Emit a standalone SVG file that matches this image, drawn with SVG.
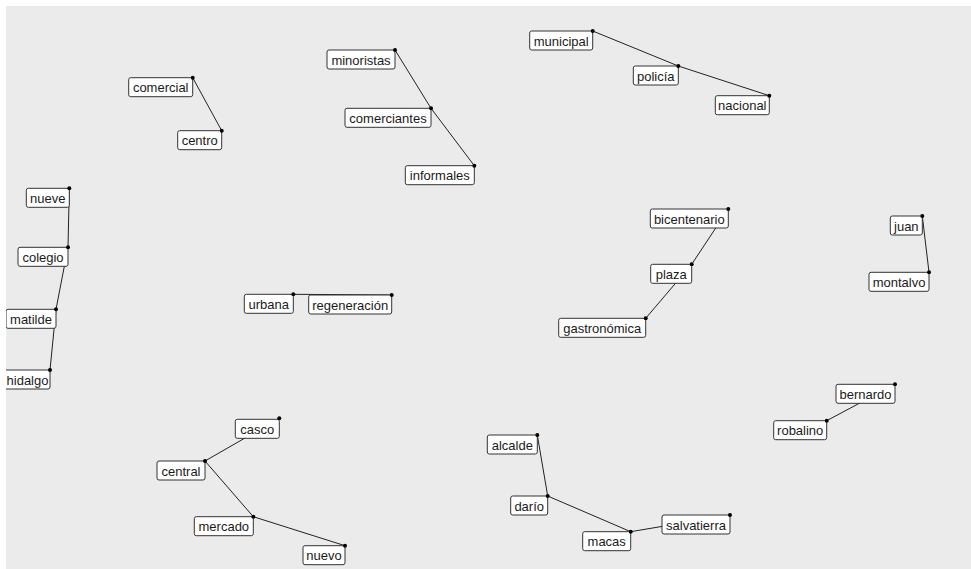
<svg xmlns="http://www.w3.org/2000/svg" width="971" height="569" viewBox="0 0 971 569">
<defs>
<style>
.bx{fill:#fff;stroke:#333;stroke-width:1}
.tx{font-family:"Liberation Sans",Arial,sans-serif;font-size:13px;fill:#1a1a1a;text-anchor:middle}
.pt{fill:#000}
.ed line{stroke:#222;stroke-width:1}
</style>
<clipPath id="pc"><rect x="6" y="6" width="965" height="563"/></clipPath>
</defs>
<rect x="0" y="0" width="971" height="569" fill="#fff"/>
<rect x="6" y="6" width="965" height="563" fill="#ebebeb"/>
<g clip-path="url(#pc)">
<g id="connectors" class="ed">
<line x1="192.7" y1="77.7" x2="221.7" y2="130.7"/>
<line x1="69.3" y1="188.3" x2="68" y2="247.3"/>
<line x1="68" y1="247.3" x2="56" y2="309.3"/>
<line x1="56" y1="309.3" x2="50" y2="370"/>
<line x1="395" y1="50" x2="431" y2="108.3"/>
<line x1="431" y1="108.3" x2="474.3" y2="165.7"/>
<line x1="592.7" y1="31" x2="678.3" y2="66"/>
<line x1="678.3" y1="66" x2="769.3" y2="95.7"/>
<line x1="279.3" y1="418.3" x2="205" y2="461"/>
<line x1="205" y1="461" x2="253.3" y2="516.7"/>
<line x1="253.3" y1="516.7" x2="345" y2="545.7"/>
<line x1="537.3" y1="435" x2="547.7" y2="496"/>
<line x1="547.7" y1="496" x2="630.7" y2="531.7"/>
<line x1="630.7" y1="531.7" x2="730" y2="515"/>
<line x1="293.3" y1="294.3" x2="391.7" y2="295"/>
<line x1="728.3" y1="209" x2="691.7" y2="264.3"/>
<line x1="691.7" y1="264.3" x2="645.7" y2="318.3"/>
<line x1="922.3" y1="216" x2="929" y2="272.3"/>
<line x1="895" y1="384.3" x2="826.7" y2="420.7"/>
</g>
<g id="n-comercial" transform="translate(192.7,77.7)"><rect class="bx" x="-64" y="0" width="64" height="19" rx="2"/><text class="tx" x="-32" y="14.5">comercial</text><circle class="pt" r="2"/></g>
<g id="n-centro" transform="translate(221.7,130.7)"><rect class="bx" x="-44" y="0" width="44" height="19" rx="2"/><text class="tx" x="-22" y="14.5">centro</text><circle class="pt" r="2"/></g>
<g id="n-nueve" transform="translate(69.3,188.3)"><rect class="bx" x="-43" y="0" width="43" height="19" rx="2"/><text class="tx" x="-21.5" y="14.5">nueve</text><circle class="pt" r="2"/></g>
<g id="n-colegio" transform="translate(68,247.3)"><rect class="bx" x="-50" y="0" width="50" height="19" rx="2"/><text class="tx" x="-25" y="14.5">colegio</text><circle class="pt" r="2"/></g>
<g id="n-matilde" transform="translate(56,309.3)"><rect class="bx" x="-50" y="0" width="50" height="19" rx="2"/><text class="tx" x="-25" y="14.5">matilde</text><circle class="pt" r="2"/></g>
<g id="n-hidalgo" transform="translate(50,370)"><rect class="bx" x="-50" y="0" width="50" height="19" rx="2"/><text class="tx" x="-22.5" y="14.5">hidalgo</text><circle class="pt" r="2"/></g>
<g id="n-minoristas" transform="translate(395,50)"><rect class="bx" x="-68" y="0" width="68" height="19" rx="2"/><text class="tx" x="-34" y="14.5">minoristas</text><circle class="pt" r="2"/></g>
<g id="n-comerciantes" transform="translate(431,108.3)"><rect class="bx" x="-86" y="0" width="86" height="19" rx="2"/><text class="tx" x="-43" y="14.5">comerciantes</text><circle class="pt" r="2"/></g>
<g id="n-informales" transform="translate(474.3,165.7)"><rect class="bx" x="-69" y="0" width="69" height="19" rx="2"/><text class="tx" x="-34.5" y="14.5">informales</text><circle class="pt" r="2"/></g>
<g id="n-municipal" transform="translate(592.7,31)"><rect class="bx" x="-63" y="0" width="63" height="19" rx="2"/><text class="tx" x="-31.5" y="14.5">municipal</text><circle class="pt" r="2"/></g>
<g id="n-policia" transform="translate(678.3,66)"><rect class="bx" x="-45" y="0" width="45" height="19" rx="2"/><text class="tx" x="-22.5" y="14.5">policía</text><circle class="pt" r="2"/></g>
<g id="n-nacional" transform="translate(769.3,95.7)"><rect class="bx" x="-54" y="0" width="54" height="19" rx="2"/><text class="tx" x="-27" y="14.5">nacional</text><circle class="pt" r="2"/></g>
<g id="n-casco" transform="translate(279.3,418.3)"><rect class="bx" x="-44" y="1" width="44" height="19" rx="2"/><text class="tx" x="-22" y="15.5">casco</text><circle class="pt" r="2"/></g>
<g id="n-central" transform="translate(205,461)"><rect class="bx" x="-48" y="0" width="48" height="19" rx="2"/><text class="tx" x="-24" y="14.5">central</text><circle class="pt" r="2"/></g>
<g id="n-mercado" transform="translate(253.3,516.7)"><rect class="bx" x="-59" y="0" width="59" height="19" rx="2"/><text class="tx" x="-29.5" y="14.5">mercado</text><circle class="pt" r="2"/></g>
<g id="n-nuevo" transform="translate(345,545.7)"><rect class="bx" x="-42" y="0" width="42" height="19" rx="2"/><text class="tx" x="-21" y="14.5">nuevo</text><circle class="pt" r="2"/></g>
<g id="n-alcalde" transform="translate(537.3,435)"><rect class="bx" x="-50" y="0" width="50" height="19" rx="2"/><text class="tx" x="-25" y="14.5">alcalde</text><circle class="pt" r="2"/></g>
<g id="n-dario" transform="translate(547.7,496)"><rect class="bx" x="-37" y="0" width="37" height="19" rx="2"/><text class="tx" x="-18.5" y="14.5">darío</text><circle class="pt" r="2"/></g>
<g id="n-macas" transform="translate(630.7,531.7)"><rect class="bx" x="-48" y="0" width="48" height="19" rx="2"/><text class="tx" x="-24" y="14.5">macas</text><circle class="pt" r="2"/></g>
<g id="n-salvatierra" transform="translate(730,515)"><rect class="bx" x="-68" y="0" width="68" height="19" rx="2"/><text class="tx" x="-34" y="14.5">salvatierra</text><circle class="pt" r="2"/></g>
<g id="n-urbana" transform="translate(293.3,294.3)"><rect class="bx" x="-49" y="0" width="49" height="19" rx="2"/><text class="tx" x="-24.5" y="14.5">urbana</text><circle class="pt" r="2"/></g>
<g id="n-regeneracion" transform="translate(391.7,295)"><rect class="bx" x="-83" y="0" width="83" height="19" rx="2"/><text class="tx" x="-41.5" y="14.5">regeneración</text><circle class="pt" r="2"/></g>
<g id="n-bicentenario" transform="translate(728.3,209)"><rect class="bx" x="-78" y="0" width="78" height="19" rx="2"/><text class="tx" x="-39" y="14.5">bicentenario</text><circle class="pt" r="2"/></g>
<g id="n-plaza" transform="translate(691.7,264.3)"><rect class="bx" x="-41" y="0" width="41" height="19" rx="2"/><text class="tx" x="-20.5" y="14.5">plaza</text><circle class="pt" r="2"/></g>
<g id="n-gastronomica" transform="translate(645.7,318.3)"><rect class="bx" x="-87" y="0" width="87" height="19" rx="2"/><text class="tx" x="-43.5" y="14.5">gastronómica</text><circle class="pt" r="2"/></g>
<g id="n-juan" transform="translate(922.3,216)"><rect class="bx" x="-32" y="0" width="32" height="19" rx="2"/><text class="tx" x="-16" y="14.5">juan</text><circle class="pt" r="2"/></g>
<g id="n-montalvo" transform="translate(929,272.3)"><rect class="bx" x="-60" y="0" width="60" height="19" rx="2"/><text class="tx" x="-30" y="14.5">montalvo</text><circle class="pt" r="2"/></g>
<g id="n-bernardo" transform="translate(895,384.3)"><rect class="bx" x="-59" y="0" width="59" height="19" rx="2"/><text class="tx" x="-29.5" y="14.5">bernardo</text><circle class="pt" r="2"/></g>
<g id="n-robalino" transform="translate(826.7,420.7)"><rect class="bx" x="-53" y="0" width="53" height="19" rx="2"/><text class="tx" x="-26.5" y="14.5">robalino</text><circle class="pt" r="2"/></g>
</g>
</svg>
